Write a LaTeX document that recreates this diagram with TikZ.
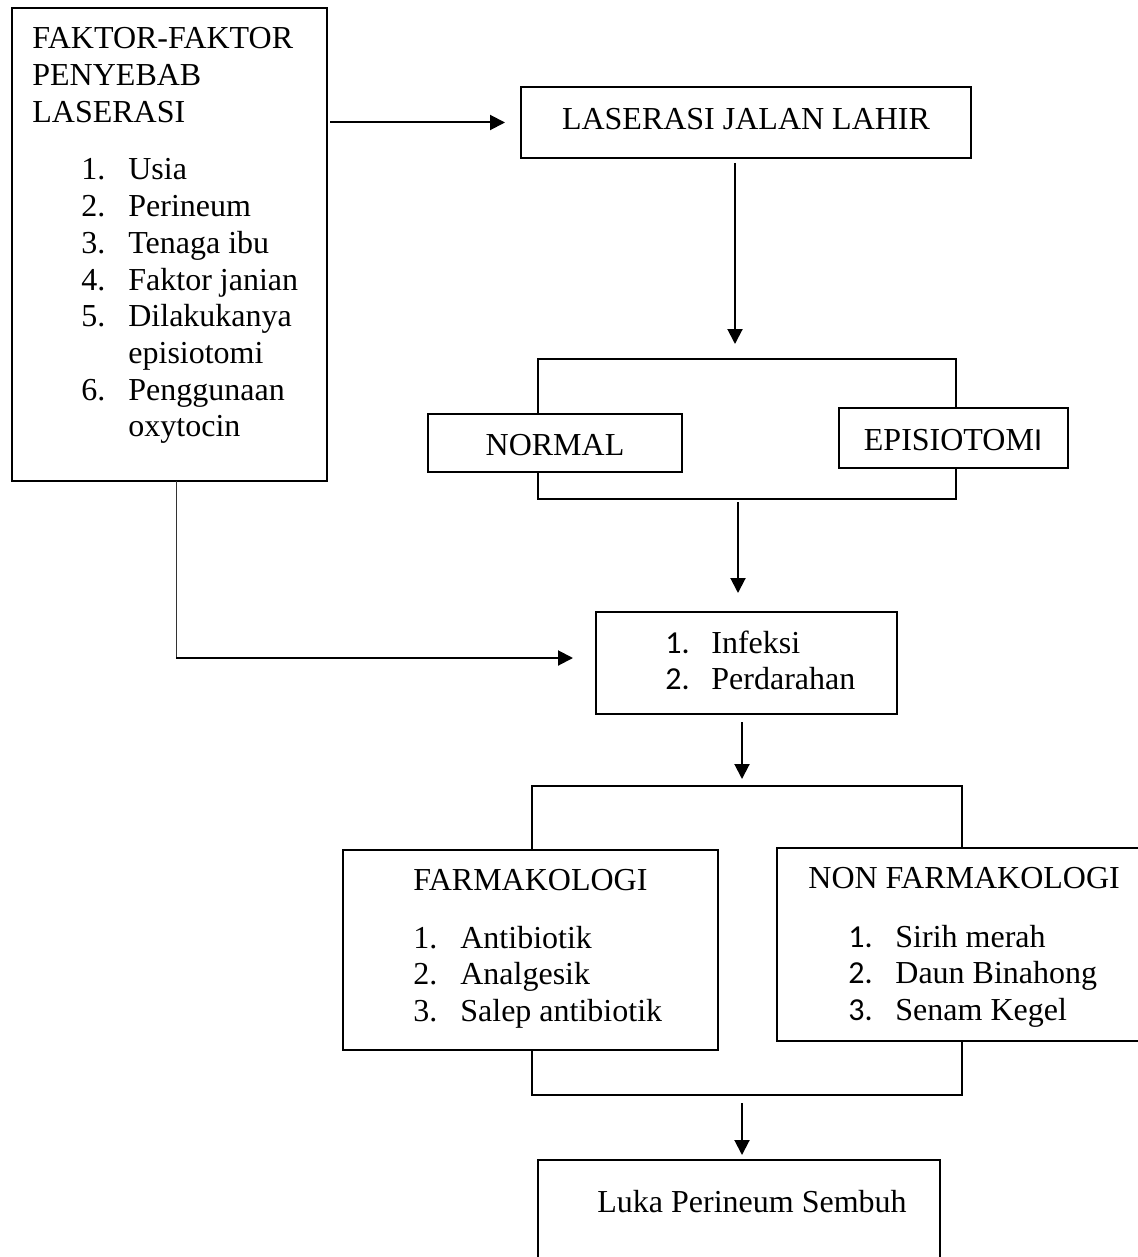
\documentclass[tikz,border=0pt]{standalone}
\usepackage{fontspec}
\setmainfont{Liberation Serif}
\newfontfamily\numfont{Carlito}
\usetikzlibrary{arrows.meta,fit}
\begin{document}
\begin{tikzpicture}[x=0.5pt,y=-0.5pt,
  box/.style={draw,line width=1pt,fill=white,inner sep=0pt,outer sep=0pt},
  brk/.style={draw,line width=1pt,inner sep=0pt,outer sep=0pt},
  arr/.style={line width=1pt,-{Triangle[length=7.5pt,width=7.5pt]}},
  txt/.style={inner sep=0pt,font=\fontsize{16pt}{18.35pt}\selectfont}]
\useasboundingbox (0,0) rectangle (1138,1257);
\clip (0,0) rectangle (1138,1257);
\node[brk,fit={(538,359) (956,499)}] (brk1) {};
\node[brk,fit={(532,786) (962,1095)}] (brk2) {};
\node[box,fit={(12,8) (327,481)}] (fak) {};
\node[box,fit={(521,87) (971,158)}] (ljl) {};
\node[box,fit={(428,414) (682,472)}] (norm) {};
\node[box,fit={(839,408) (1068,468)}] (epi) {};
\node[box,fit={(596,612) (897,714)}] (inf) {};
\node[box,fit={(343,850) (718,1050)}] (farm) {};
\node[box,fit={(777,848) (1148,1041)}] (nonf) {};
\node[box,fit={(538,1160) (940,1280)}] (luka) {};
\node[txt,anchor=base west] (fakhd) at (32,49) {\begin{tabular}[t]{@{}l@{}}FAKTOR-FAKTOR\\PENYEBAB\\LASERASI\end{tabular}};
\node[txt,anchor=base west] (faklst) at (81,180) {\begin{tabular}[t]{@{}p{23.5pt}@{}l@{}}1.&Usia\\2.&Perineum\\3.&Tenaga ibu\\4.&Faktor janian\\5.&Dilakukanya\\&episiotomi\\6.&Penggunaan\\&oxytocin\end{tabular}};
\node[txt,anchor=base] (ljltx) at (746,130) {LASERASI JALAN LAHIR};
\node[txt,anchor=base] (normtx) at (555,455) {NORMAL};
\node[txt,anchor=base] (epitx) at (953,450) {EPISIOTOM{\numfont I}};
\node[txt,anchor=base west] (inflst) at (665,653) {\begin{tabular}[t]{@{}p{23pt}@{}l@{}}{\numfont 1.}&Infeksi\\{\numfont 2.}&Perdarahan\end{tabular}};
\node[txt,anchor=base west] (farmtx) at (413,890) {FARMAKOLOGI};
\node[txt,anchor=base west] (farmlst) at (413,948) {\begin{tabular}[t]{@{}p{23.5pt}@{}l@{}}1.&Antibiotik\\2.&Analgesik\\3.&Salep antibiotik\end{tabular}};
\node[txt,anchor=base west] (nontx) at (808,888) {NON FARMAKOLOGI};
\node[txt,anchor=base west] (nonlst) at (848,947) {\begin{tabular}[t]{@{}p{23.5pt}@{}l@{}}{\numfont 1.}&Sirih merah\\{\numfont 2.}&Daun Binahong\\{\numfont 3.}&Senam Kegel\end{tabular}};
\node[txt,anchor=base west] (lukatx) at (597,1212) {Luka Perineum Sembuh};
\draw[arr,shorten <=1.5pt,shorten >=8pt] (fak.east |- ljl.west) -- (ljl.west);
\draw[arr,shorten <=2.5pt,shorten >=7.5pt] ([xshift=-5.5pt]ljl.south) -- ([xshift=-6pt]brk1.north);
\draw[arr,shorten <=1.5pt,shorten >=9.5pt] ([xshift=-4.5pt]brk1.south) -- ([xshift=-4.25pt]inf.north);
\coordinate (bend) at (176,658);
\draw[line width=0.5pt,black!80] ([xshift=3.25pt]fak.south) -- (bend);
\draw[arr,shorten >=11.5pt] (bend) -- (bend -| inf.west);
\draw[arr,shorten <=4pt,shorten >=3.5pt] ([xshift=-2.25pt]inf.south) -- ([xshift=-2.5pt]brk2.north);
\draw[arr,shorten <=4pt,shorten >=2.5pt] ([xshift=-2.5pt]brk2.south) -- ([xshift=1.5pt]luka.north);
\end{tikzpicture}
\end{document}
